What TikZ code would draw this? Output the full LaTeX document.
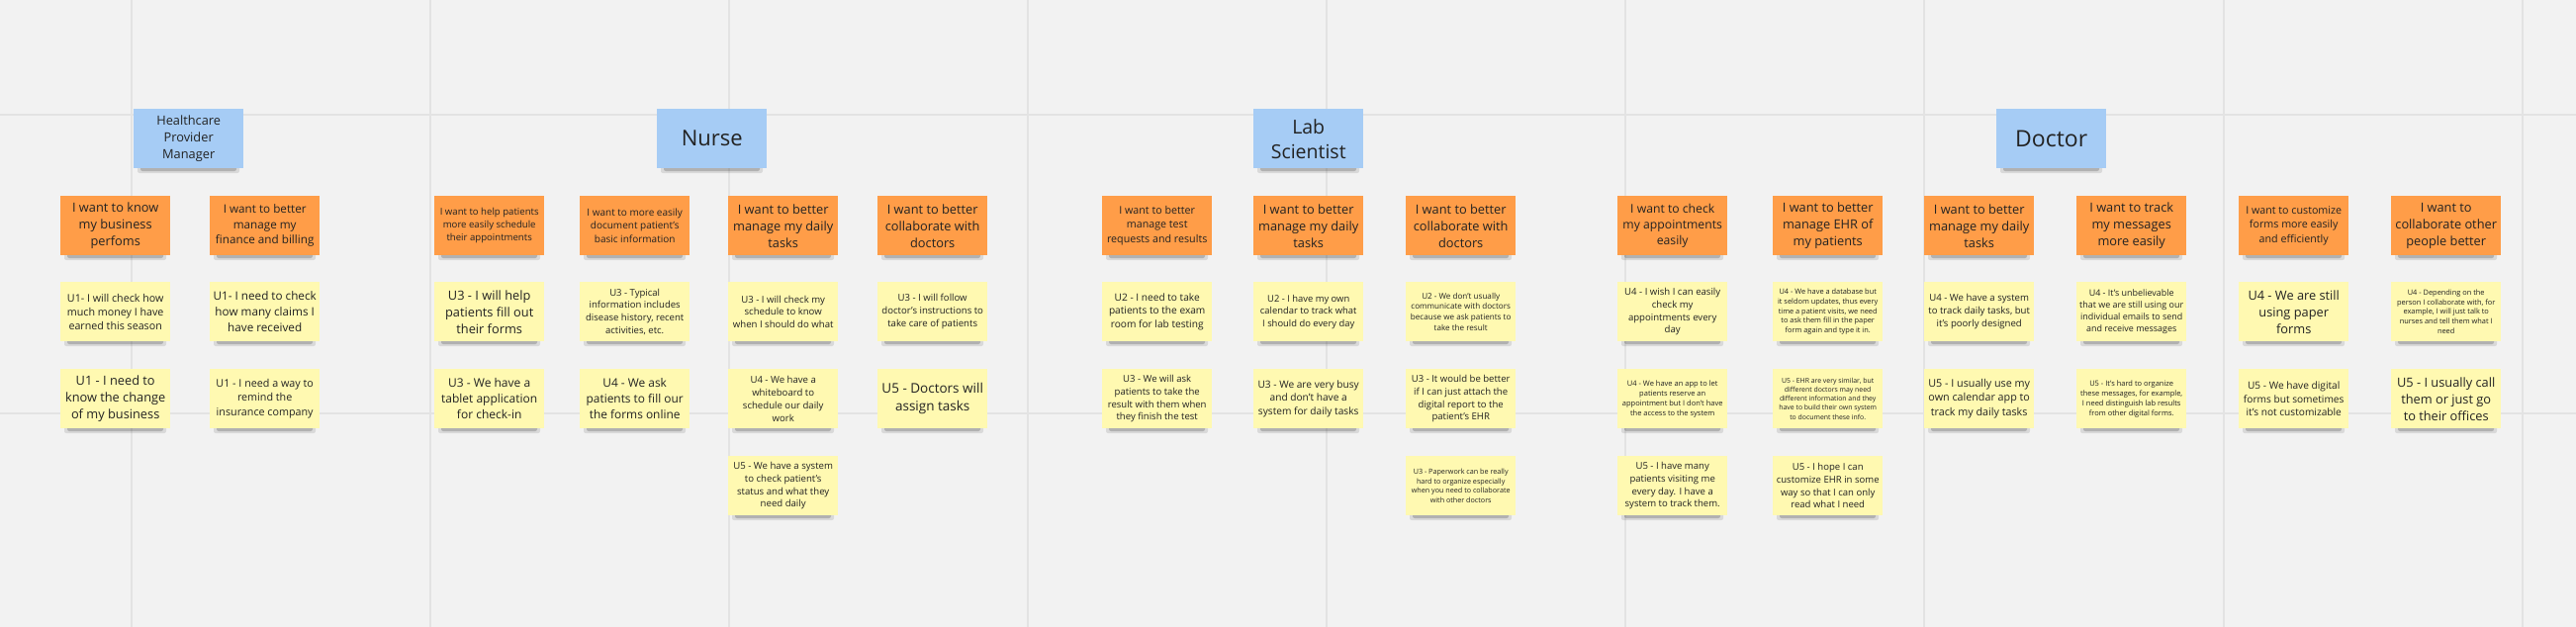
\documentclass[tikz,border=0pt]{standalone}
\usepackage{fontspec}
\setmainfont{Open Sans}
\definecolor{bg}{HTML}{F2F2F2}
\definecolor{gridc}{HTML}{E3E3E3}
\definecolor{orangec}{HTML}{FF9D48}
\definecolor{yellowc}{HTML}{FFF9B1}
\definecolor{bluec}{HTML}{A6CCF5}
\definecolor{textc}{HTML}{222222}
\tikzset{
  notebox/.style={anchor=north west, minimum width=111pt, minimum height=60pt,
    inner sep=0pt, align=center, text=textc},
  gridline/.style={draw=gridc, line width=1.6pt}
}
\newcommand\mynote[7]{%
  \fill[black, opacity=.10, rounded corners=2pt] (#2+4,#3+55) rectangle (#2+107,#3+65);
  \fill[black, opacity=.18, rounded corners=2pt] (#2+7,#3+57) rectangle (#2+104,#3+63);
  \node[notebox, fill=#4, font=\fontsize{#5}{#6}\selectfont] (#1) at (#2,#3) {#7};
}
\begin{document}
\begin{tikzpicture}[x=1pt,y=-1pt]
\useasboundingbox (0,0) rectangle (2604,634);
\fill[bg] (0,0) rectangle (2604,634);
% grid
\foreach \gx in {133,435,737,1039,1341,1643,1945,2248,2550} {
  \draw[gridline] (\gx,0) -- (\gx,634);
}
\foreach \gy in {116,418} {
  \draw[gridline] (0,\gy) -- (2604,\gy);
}
% ---------------- Healthcare Provider Manager
\mynote{hpmH}{135}{110}{bluec}{12.8}{17}{Healthcare\\Provider\\Manager}
\mynote{hpmAo}{61}{198}{orangec}{12.8}{17}{I want to know\\my business\\perfoms}
\mynote{hpmA1}{61}{285}{yellowc}{10.7}{14.2}{U1- I will check how\\much money I have\\earned this season}
\mynote{hpmA2}{61}{373}{yellowc}{12.8}{17}{U1 - I need to\\know the change\\of my business}
\mynote{hpmBo}{212}{198}{orangec}{11.7}{15.6}{I want to better\\manage my\\finance and billing}
\mynote{hpmB1}{212}{285}{yellowc}{11.7}{15.6}{U1- I need to check\\how many claims I\\have received}
\mynote{hpmB2}{212}{373}{yellowc}{10.75}{14.3}{U1 - I need a way to\\remind the\\insurance company}
% ---------------- Nurse
\mynote{nurH}{664}{110}{bluec}{22}{28}{Nurse}
\mynote{nurAo}{439}{198}{orangec}{9.6}{12.8}{I want to help patients\\more easily schedule\\their appointments}
\mynote{nurA1}{439}{285}{yellowc}{12.8}{17}{U3 - I will help\\patients fill out\\their forms}
\mynote{nurA2}{439}{373}{yellowc}{12}{16}{U3 - We have a\\tablet application\\for check-in}
\mynote{nurBo}{586}{198}{orangec}{10}{13.3}{I want to more easily\\document patient's\\basic information}
\mynote{nurB1}{586}{285}{yellowc}{9.55}{12.7}{U3 - Typical\\information includes\\disease history, recent\\activities, etc.}
\mynote{nurB2}{586}{373}{yellowc}{11.9}{15.8}{U4 - We ask\\patients to fill our\\the forms online}
\mynote{nurCo}{736}{198}{orangec}{12.8}{17}{I want to better\\manage my daily\\tasks}
\mynote{nurC1}{736}{285}{yellowc}{9.6}{12.8}{U3 - I will check my\\schedule to know\\when I should do what}
\mynote{nurC2}{736}{373}{yellowc}{9.6}{12.8}{U4 - We have a\\whiteboard to\\schedule our daily\\work}
\mynote{nurC3}{736}{461}{yellowc}{9.6}{12.8}{U5 - We have a system\\to check patient's\\status and what they\\need daily}
\mynote{nurDo}{887}{198}{orangec}{12.8}{17}{I want to better\\collaborate with\\doctors}
\mynote{nurD1}{887}{285}{yellowc}{9.6}{12.8}{U3 - I will follow\\doctor's instructions to\\take care of patients}
\mynote{nurD2}{887}{373}{yellowc}{13.5}{18}{U5 - Doctors will\\assign tasks}
% ---------------- Lab Scientist
\mynote{labH}{1267}{110}{bluec}{19.5}{25}{Lab\\Scientist}
\mynote{labAo}{1114}{198}{orangec}{10.7}{14.2}{I want to better\\manage test\\requests and results}
\mynote{labA1}{1114}{285}{yellowc}{10.15}{13.5}{U2 - I need to take\\patients to the exam\\room for lab testing}
\mynote{labA2}{1114}{373}{yellowc}{9.55}{12.7}{U3 - We will ask\\patients to take the\\result with them when\\they finish the test}
\mynote{labBo}{1267}{198}{orangec}{12.8}{17}{I want to better\\manage my daily\\tasks}
\mynote{labB1}{1267}{285}{yellowc}{9.4}{12.5}{U2 - I have my own\\calendar to track what\\I should do every day}
\mynote{labB2}{1267}{373}{yellowc}{10.15}{13.5}{U3 - We are very busy\\and don't have a\\system for daily tasks}
\mynote{labCo}{1421}{198}{orangec}{12.8}{17}{I want to better\\collaborate with\\doctors}
\mynote{labC1}{1421}{285}{yellowc}{8.1}{10.8}{U2 - We don't usually\\communicate with doctors\\because we ask patients to\\take the result}
\mynote{labC2}{1421}{373}{yellowc}{9.55}{12.7}{U3 - It would be better\\if I can just attach the\\digital report to the\\patient's EHR}
\mynote{labC3}{1421}{461}{yellowc}{7.2}{9.6}{U3 - Paperwork can be really\\hard to organize especially\\when you need to collaborate\\with other doctors}
% ---------------- Doctor
\mynote{docH}{2018}{110}{bluec}{23}{28}{Doctor}
\mynote{docAo}{1635}{198}{orangec}{12.2}{16.2}{I want to check\\my appointments\\easily}
\mynote{docA1}{1635}{285}{yellowc}{9.6}{12.8}{U4 - I wish I can easily\\check my\\appointments every\\day}
\mynote{docA2}{1635}{373}{yellowc}{7.5}{10}{U4 - We have an app to let\\patients reserve an\\appointment but I don't have\\the access to the system}
\mynote{docA3}{1635}{461}{yellowc}{9.55}{12.7}{U5 - I have many\\patients visiting me\\every day. I have a\\system to track them.}
\mynote{docBo}{1792}{198}{orangec}{12.8}{17}{I want to better\\manage EHR of\\my patients}
\mynote{docB1}{1792}{285}{yellowc}{7.4}{9.8}{U4 - We have a database but\\it seldom updates, thus every\\time a patient visits, we need\\to ask them fill in the paper\\form again and type it in.}
\mynote{docB2}{1792}{373}{yellowc}{6.9}{9.2}{U5 - EHR are very similar, but\\different doctors may need\\different information and they\\have to build their own system\\to document these info.}
\mynote{docB3}{1792}{461}{yellowc}{9.55}{12.7}{U5 - I hope I can\\customize EHR in some\\way so that I can only\\read what I need}
\mynote{docCo}{1945}{198}{orangec}{12.8}{17}{I want to better\\manage my daily\\tasks}
\mynote{docC1}{1945}{285}{yellowc}{9.6}{12.8}{U4 - We have a system\\to track daily tasks, but\\it's poorly designed}
\mynote{docC2}{1945}{373}{yellowc}{10.75}{14.3}{U5 - I usually use my\\own calendar app to\\track my daily tasks}
\mynote{docDo}{2099}{198}{orangec}{12.8}{17}{I want to track\\my messages\\more easily}
\mynote{docD1}{2099}{285}{yellowc}{8.95}{11.9}{U4 - It's unbelievable\\that we are still using our\\individual emails to send\\and receive messages}
\mynote{docD2}{2099}{373}{yellowc}{7.5}{10}{U5 - It's hard to organize\\these messages, for example,\\I need distinguish lab results\\from other digital forms.}
\mynote{docEo}{2263}{198}{orangec}{10.7}{14.2}{I want to customize\\forms more easily\\and efficiently}
\mynote{docE1}{2263}{285}{yellowc}{12.8}{17}{U4 - We are still\\using paper\\forms}
\mynote{docE2}{2263}{373}{yellowc}{10.15}{13.5}{U5 - We have digital\\forms but sometimes\\it's not customizable}
\mynote{docFo}{2417}{198}{orangec}{12.8}{17}{I want to\\collaborate other\\people better}
\mynote{docF1}{2417}{285}{yellowc}{7.4}{9.8}{U4 - Depending on the\\person I collaborate with, for\\example, I will just talk to\\nurses and tell them what I\\need}
\mynote{docF2}{2417}{373}{yellowc}{12.8}{17}{U5 - I usually call\\them or just go\\to their offices}
\end{tikzpicture}
\end{document}
